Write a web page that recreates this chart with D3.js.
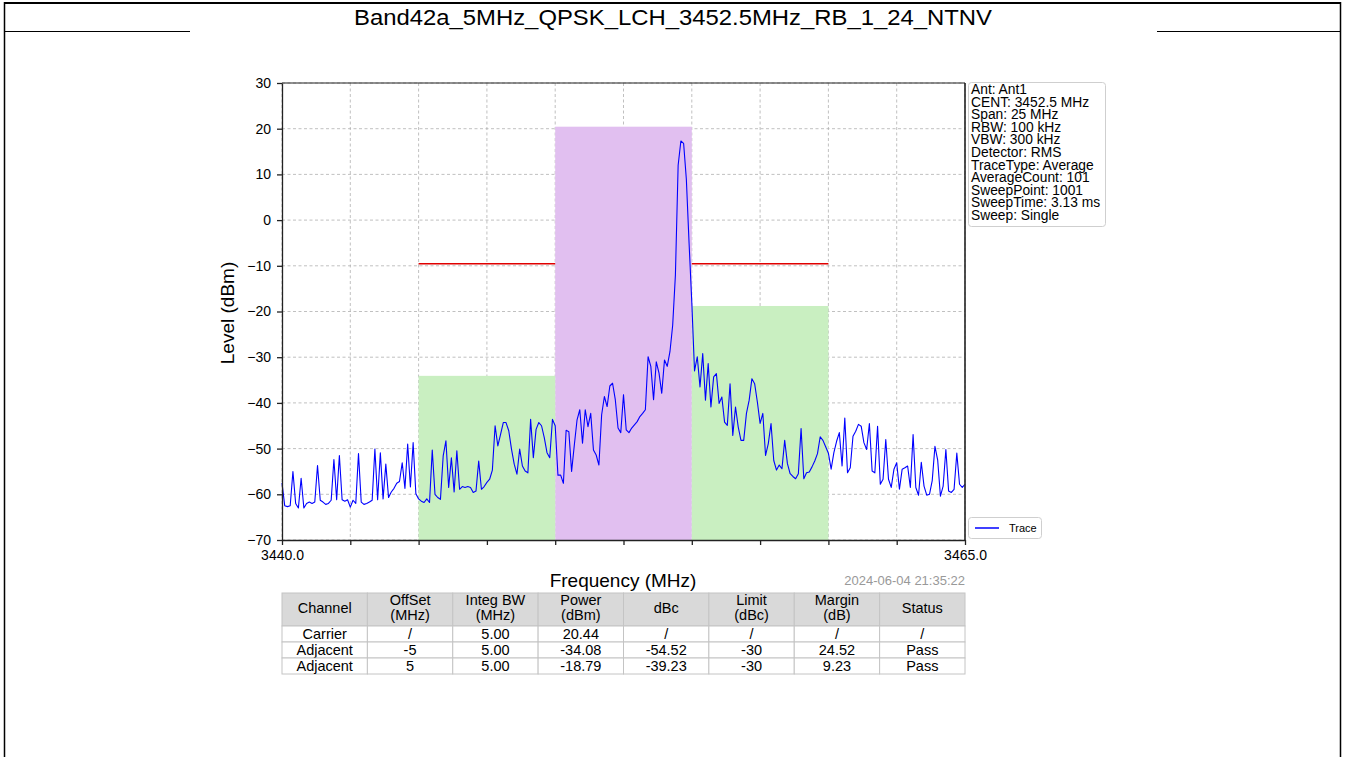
<!DOCTYPE html>
<html>
<head>
<meta charset="utf-8">
<script src="https://cdn.jsdelivr.net/npm/d3@7"></script>
<style>
body { margin: 0; background: #fff; }
svg text { font-family: "Liberation Sans", Arial, sans-serif; }
</style>
</head>
<body>
<div id="chart"></div>
<script>
var title = "Band42a_5MHz_QPSK_LCH_3452.5MHz_RB_1_24_NTNV";
var stamp = "2024-06-04 21:35:22";

var xTicks = [3440, 3442.5, 3445, 3447.5, 3450, 3452.5, 3455, 3457.5, 3460, 3462.5, 3465];
var yTicks = [30, 20, 10, 0, -10, -20, -30, -40, -50, -60, -70];

var centerFreq = 3452.5;
var chanOffset = [0, -5, 5];
var chanBW = [5, 5, 5];
var chanPower = [20.44, -34.08, -18.79];
var chanLimit = [null, -30, -30];

var infoLines = ["Ant: Ant1", "CENT: 3452.5 MHz", "Span: 25 MHz", "RBW: 100 kHz", "VBW: 300 kHz",
    "Detector: RMS", "TraceType: Average", "AverageCount: 101", "SweepPoint: 1001",
    "SweepTime: 3.13 ms", "Sweep: Single"];

var tableHead = [["Channel"], ["OffSet", "(MHz)"], ["Integ BW", "(MHz)"], ["Power", "(dBm)"],
    ["dBc"], ["Limit", "(dBc)"], ["Margin", "(dB)"], ["Status"]];
var tableRows = [
    ["Carrier", "/", "5.00", "20.44", "/", "/", "/", "/"],
    ["Adjacent", "-5", "5.00", "-34.08", "-54.52", "-30", "24.52", "Pass"],
    ["Adjacent", "5", "5.00", "-18.79", "-39.23", "-30", "9.23", "Pass"]
];

// trace, sweep grid 3440 MHz + 0.1 MHz steps
var traceStart = 3440, traceStep = 0.1;
var traceLevel = [
 -57.5,-62.5,-62.7,-62.5,-55,-62,-63,-56.5,-63,-62,
 -61.7,-62,-61.7,-53.7,-61.3,-61.7,-62.2,-62,-61.3,-52.4,
 -61.2,-51.5,-61.2,-61.5,-61.2,-62.8,-61.3,-62,-51.1,-61.7,
 -62.2,-62,-61.7,-61.3,-50.1,-61.2,-50.9,-61,-53.4,-60.7,
 -59.5,-58.7,-57.6,-57.2,-53.1,-58.7,-49,-58.4,-48.7,-59.9,
 -61,-61.5,-61.8,-61,-61.8,-50.3,-60,-60.7,-61.1,-51.6,
 -48.3,-58.5,-52,-59.5,-50.5,-58.9,-58.3,-58.5,-58.3,-58.5,
 -59.6,-59.3,-52.7,-58.9,-58.3,-57.4,-56.7,-54.7,-45,-49.4,
 -46.9,-44.3,-44.3,-46.1,-50.1,-53.4,-55.6,-50.1,-53.8,-54.9,
 -55.3,-43.6,-52,-45.8,-44.3,-45,-47.6,-50.9,-52,-43.6,
 -45,-55.8,-55.8,-57.6,-46,-46.3,-55,-49.2,-43.7,-41.5,
 -48.8,-41.5,-45.2,-42.3,-50.3,-51.4,-53.6,-42.6,-38.6,-40.8,
 -36.3,-35.7,-39.3,-45.5,-46.5,-38.2,-45.9,-46.5,-45.5,-44.8,
 -44.1,-43,-42.3,-41.5,-29.9,-32,-39.3,-31,-33.5,-37.9,
 -30.6,-32,-28.8,-23,-12,12,17.3,16.8,9,-5,
 -18,-33,-29.9,-36.5,-29.2,-39.4,-31.4,-40.9,-34.3,-33.6,
 -40.1,-38.7,-44.2,-44.9,-35.8,-47.1,-40.9,-45.3,-48.2,-48.2,
 -42.3,-39.4,-34.7,-35.8,-39.8,-44.5,-42.3,-51.5,-48.9,-44.5,
 -52.6,-54.7,-53.6,-54.4,-48.2,-53.3,-55.5,-56.1,-56.6,-55.5,
 -45.6,-56.6,-55.3,-55.1,-54,-52.7,-51.1,-47.4,-48.2,-49.6,
 -51,-54.5,-50.9,-48.4,-46.5,-53.8,-43.3,-55.3,-54.2,-47.3,
 -46.2,-44.7,-45.1,-48.7,-50.2,-44.5,-54.9,-55.3,-45.1,-57.8,
 -56.7,-48,-56.7,-58.5,-54.5,-53.1,-58.9,-54.5,-54.2,-53.8,
 -58.5,-46.9,-58.5,-60.2,-53,-58.2,-60.2,-60,-57,-49.5,
 -52.5,-60.4,-58.2,-50.2,-59.3,-59.6,-58.9,-51,-57.8,-58.5,
 -57.8
];

var W = 1345, H = 757;
var svg = d3.select("#chart").append("svg")
    .attr("width", W)
    .attr("height", H);

svg.append("rect").attr("width", W).attr("height", H).attr("fill", "#fff");

// page frame and title row
svg.append("line").attr("x1", 4).attr("x2", 1341).attr("y1", 3).attr("y2", 3)
    .attr("stroke", "#000").attr("stroke-width", 2);
svg.append("line").attr("x1", 4.5).attr("x2", 4.5).attr("y1", 2).attr("y2", H)
    .attr("stroke", "#000").attr("stroke-width", 1.5);
svg.append("line").attr("x1", 1340.5).attr("x2", 1340.5).attr("y1", 2).attr("y2", H)
    .attr("stroke", "#000").attr("stroke-width", 1.5);
svg.append("line").attr("x1", 4).attr("x2", 190).attr("y1", 31.5).attr("y2", 31.5)
    .attr("stroke", "#000").attr("stroke-width", 1.2);
svg.append("line").attr("x1", 1157).attr("x2", 1341).attr("y1", 31.5).attr("y2", 31.5)
    .attr("stroke", "#000").attr("stroke-width", 1.2);

svg.append("text")
    .attr("x", 673).attr("y", 25)
    .attr("text-anchor", "middle")
    .attr("font-size", "21.5px")
    .attr("textLength", 638)
    .attr("lengthAdjust", "spacingAndGlyphs")
    .text(title);

var x = d3.scaleLinear().domain([3440, 3465]).range([282, 965]);
var y = d3.scaleLinear().domain([-70, 30]).range([540, 83]);

// grid
var grid = svg.append("g").attr("class", "grid");
grid.selectAll(".gx").data(xTicks).enter().append("line")
    .attr("x1", function(d) { return x(d); })
    .attr("x2", function(d) { return x(d); })
    .attr("y1", y(30)).attr("y2", y(-70))
    .attr("stroke", "#b0b0b0").attr("stroke-width", 0.8).attr("stroke-dasharray", "3,2.5");
grid.selectAll(".gy").data(yTicks).enter().append("line")
    .attr("x1", x(3440)).attr("x2", x(3465))
    .attr("y1", function(d) { return y(d); })
    .attr("y2", function(d) { return y(d); })
    .attr("stroke", "#b0b0b0").attr("stroke-width", 0.8).attr("stroke-dasharray", "3,2.5");

// channel boxes
var chans = chanPower.map(function(p, i) {
    return {lo: centerFreq + chanOffset[i] - chanBW[i] / 2,
            hi: centerFreq + chanOffset[i] + chanBW[i] / 2,
            power: p, limit: chanLimit[i], carrier: i === 0};
});

svg.selectAll(".chan").data(chans).enter().append("rect")
    .attr("x", function(d) { return x(d.lo); })
    .attr("width", function(d) { return x(d.hi) - x(d.lo); })
    .attr("y", function(d) { return y(d.power); })
    .attr("height", function(d) { return y(-70) - y(d.power); })
    .attr("fill", function(d) { return d.carrier ? "#e1bff0" : "#c9efc1"; });

svg.selectAll(".lim").data(chans.filter(function(d) { return d.limit !== null; }))
    .enter().append("line")
    .attr("x1", function(d) { return x(d.lo); })
    .attr("x2", function(d) { return x(d.hi); })
    .attr("y1", function(d) { return y(chanPower[0] + d.limit); })
    .attr("y2", function(d) { return y(chanPower[0] + d.limit); })
    .attr("stroke", "#e00000").attr("stroke-width", 1.5);

// trace
var line = d3.line()
    .x(function(d, i) { return x(traceStart + i * traceStep); })
    .y(function(d) { return y(d); });

svg.append("path")
    .datum(traceLevel)
    .attr("d", line)
    .attr("fill", "none")
    .attr("stroke", "#0000ff")
    .attr("stroke-width", 1.1)
    .attr("stroke-linejoin", "round");

// axes
var xAxis = svg.append("g")
    .attr("transform", "translate(0," + y(-70) + ")")
    .call(d3.axisBottom(x).tickValues(xTicks).tickSize(5).tickSizeOuter(0)
        .tickFormat(function(d) { return (d === 3440 || d === 3465) ? d.toFixed(1) : ""; }));
xAxis.selectAll("text").attr("font-size", "14px").attr("fill", "#000").attr("y", 10)
    .style("font-family", "'Liberation Sans', Arial, sans-serif");

var yAxis = svg.append("g")
    .attr("transform", "translate(" + x(3440) + ",0)")
    .call(d3.axisLeft(y).tickValues(yTicks).tickSize(5).tickSizeOuter(0)
        .tickFormat(function(d) { return d < 0 ? "\u2212" + Math.abs(d) : d; }));
yAxis.selectAll("text").attr("font-size", "14px").attr("fill", "#000").attr("x", -11)
    .style("font-family", "'Liberation Sans', Arial, sans-serif");

svg.selectAll(".domain, .tick line").attr("stroke", "#222").attr("stroke-width", 1.3);

svg.append("line").attr("x1", x(3440)).attr("x2", x(3465)).attr("y1", y(30)).attr("y2", y(30))
    .attr("stroke", "#222").attr("stroke-width", 1.2);
svg.append("line").attr("x1", x(3465)).attr("x2", x(3465)).attr("y1", y(30)).attr("y2", y(-70))
    .attr("stroke", "#222").attr("stroke-width", 1.6);

svg.append("text")
    .attr("transform", "translate(234,313) rotate(-90)")
    .attr("text-anchor", "middle")
    .attr("font-size", "19px")
    .text("Level (dBm)");

svg.append("text")
    .attr("x", 623).attr("y", 587)
    .attr("text-anchor", "middle")
    .attr("font-size", "19px")
    .text("Frequency (MHz)");

svg.append("text")
    .attr("x", 965).attr("y", 585)
    .attr("text-anchor", "end")
    .attr("font-size", "13px")
    .attr("fill", "#999")
    .text(stamp);

// info box, one text block like the original annotation
svg.append("rect")
    .attr("x", 968.5).attr("y", 82.5).attr("width", 137).attr("height", 144).attr("rx", 3)
    .attr("fill", "#fff").attr("stroke", "#cfcfcf");
var info = svg.append("text")
    .attr("x", 971).attr("y", 94)
    .attr("font-size", "13.8px");
info.selectAll("tspan").data(infoLines).enter().append("tspan")
    .attr("x", 971)
    .attr("dy", function(d, i) { return i === 0 ? 0 : 12.6; })
    .text(function(d) { return d; });

// trace legend
svg.append("rect")
    .attr("x", 968.5).attr("y", 517.5).attr("width", 73).attr("height", 21).attr("rx", 3)
    .attr("fill", "#fff").attr("stroke", "#cfcfcf");
svg.append("line").attr("x1", 975).attr("x2", 999).attr("y1", 528).attr("y2", 528)
    .attr("stroke", "#0000ff").attr("stroke-width", 1.5);
svg.append("text").attr("x", 1009).attr("y", 532).attr("font-size", "11px").text("Trace");

// table
var tx0 = 282, tx1 = 965, colW = (tx1 - tx0) / tableHead.length;
var headTop = 593, headH = 33, rowH = 16;

var head = svg.append("g").attr("class", "thead");
head.selectAll("rect").data(tableHead).enter().append("rect")
    .attr("x", function(d, i) { return tx0 + i * colW; })
    .attr("y", headTop).attr("width", colW).attr("height", headH)
    .attr("fill", "#d9d9d9").attr("stroke", "#c4c4c4");
head.selectAll("text").data(tableHead).enter().append("text")
    .attr("x", function(d, i) { return tx0 + (i + 0.5) * colW; })
    .attr("y", function(d) { return d.length === 1 ? 613 : 605; })
    .attr("text-anchor", "middle")
    .attr("font-size", "14.5px")
    .each(function(d) {
        var t = d3.select(this);
        d.forEach(function(s, k) {
            t.append("tspan")
                .attr("x", t.attr("x"))
                .attr("dy", k === 0 ? 0 : 15)
                .text(s);
        });
    });

var rows = svg.selectAll(".trow").data(tableRows).enter().append("g")
    .attr("transform", function(d, r) { return "translate(0," + (headTop + headH + r * rowH) + ")"; });
rows.selectAll("rect").data(function(d) { return d; }).enter().append("rect")
    .attr("x", function(d, i) { return tx0 + i * colW; })
    .attr("y", 0).attr("width", colW).attr("height", rowH)
    .attr("fill", "#fff").attr("stroke", "#c4c4c4");
rows.selectAll("text").data(function(d) { return d; }).enter().append("text")
    .attr("x", function(d, i) { return tx0 + (i + 0.5) * colW; })
    .attr("y", 13)
    .attr("text-anchor", "middle")
    .attr("font-size", "14.5px")
    .text(function(d) { return d; });
</script>
</body>
</html>
